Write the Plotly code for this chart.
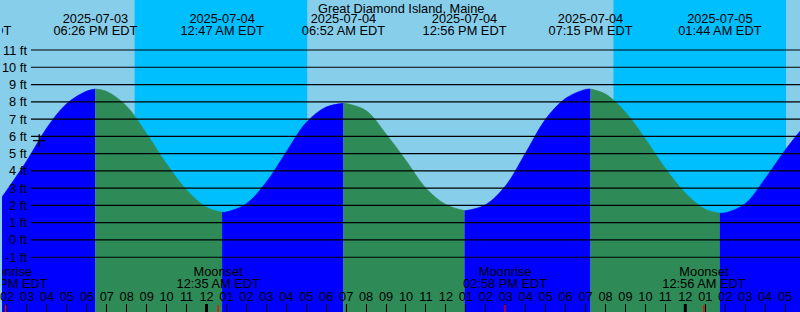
import plotly.graph_objects as go
from datetime import datetime

# ---------------- data ----------------
station = "Great Diamond Island, Maine"

tide_times = [
    "2025-07-03 13:45", "2025-07-03 14:00", "2025-07-03 15:00", "2025-07-03 16:00",
    "2025-07-03 17:00", "2025-07-03 18:00", "2025-07-03 18:26",
    "2025-07-03 19:00", "2025-07-03 20:00", "2025-07-03 21:00", "2025-07-03 22:00",
    "2025-07-03 23:00", "2025-07-04 00:00", "2025-07-04 00:47",
    "2025-07-04 01:00", "2025-07-04 02:00", "2025-07-04 03:00", "2025-07-04 04:00",
    "2025-07-04 05:00", "2025-07-04 06:00", "2025-07-04 06:52",
    "2025-07-04 07:00", "2025-07-04 08:00", "2025-07-04 09:00", "2025-07-04 10:00",
    "2025-07-04 11:00", "2025-07-04 12:00", "2025-07-04 12:56",
    "2025-07-04 13:00", "2025-07-04 14:00", "2025-07-04 15:00", "2025-07-04 16:00",
    "2025-07-04 17:00", "2025-07-04 18:00", "2025-07-04 19:00", "2025-07-04 19:15",
    "2025-07-04 20:00", "2025-07-04 21:00", "2025-07-04 22:00", "2025-07-04 23:00",
    "2025-07-05 00:00", "2025-07-05 01:00", "2025-07-05 01:44",
    "2025-07-05 02:00", "2025-07-05 03:00", "2025-07-05 04:00", "2025-07-05 05:00",
    "2025-07-05 05:45",
]
tide_heights = [
    2.49, 2.90, 4.60, 6.50,
    7.90, 8.62, 8.74,
    8.60, 7.75, 6.15, 4.40,
    2.90, 1.90, 1.60,
    1.62, 2.10, 3.35, 5.10,
    6.80, 7.70, 7.91,
    7.90, 7.49, 6.14, 4.60,
    3.00, 2.05, 1.70,
    1.70, 2.05, 3.15, 5.05,
    7.00, 8.20, 8.72, 8.74,
    8.45, 7.40, 5.85, 4.15,
    2.72, 1.78, 1.55,
    1.57, 2.10, 3.55, 5.20,
    6.30,
]

event_times = ["2025-07-03 12:07", "2025-07-03 18:26", "2025-07-04 00:47", "2025-07-04 06:52",
               "2025-07-04 12:56", "2025-07-04 19:15", "2025-07-05 01:44"]
event_dates = ["2025-07-03", "2025-07-03", "2025-07-04", "2025-07-04",
               "2025-07-04", "2025-07-04", "2025-07-05"]
event_clock = ["12:07 PM EDT", "06:26 PM EDT", "12:47 AM EDT", "06:52 AM EDT",
               "12:56 PM EDT", "07:15 PM EDT", "01:44 AM EDT"]

moon_times = ["2025-07-03 13:56", "2025-07-04 00:35", "2025-07-04 14:58", "2025-07-05 00:56"]
moon_names = ["Moonrise", "Moonset", "Moonrise", "Moonset"]
moon_clock = ["01:56 PM EDT", "12:35 AM EDT", "02:58 PM EDT", "12:56 AM EDT"]

night_starts = ["2025-07-03 20:24", "2025-07-04 20:24"]
night_ends = ["2025-07-04 05:03", "2025-07-05 05:03"]

midnights = ["2025-07-04 00:00", "2025-07-05 00:00"]

now_time = ["2025-07-03 15:37"]
now_height = [5.75]

ft_levels = list(range(11, -2, -1))
ft_labels = [f"{v} ft" for v in ft_levels]

x_range = ["2025-07-03 13:45", "2025-07-05 05:45"]

# ---------------- styling ----------------
W, H = 800, 312
DAY = "#87CEEB"
NIGHT = "#00BFFF"
FLOOD = "#0000FF"
EBB = "#2E8B57"
FONT = "Liberation Sans"
FS = 12.8

# vertical scale: 11 ft at y=50px, 17.27 px per foot
PX_PER_FT = 17.27
Y_TOP = 11 + 50 / PX_PER_FT
Y_BOT = 11 - (H - 50) / PX_PER_FT


def px_to_ft(ypx):
    return 11 - (ypx - 50) / PX_PER_FT


def parse(s):
    return datetime.strptime(s, "%Y-%m-%d %H:%M")


fig = go.Figure()

# tide fill, split at each high/low
T = [parse(t) for t in tide_times]
bounds = [T[0]] + [parse(e) for e in event_times if T[0] < parse(e) < T[-1]] + [T[-1]]
for a, b in zip(bounds[:-1], bounds[1:]):
    idx = [i for i, t in enumerate(T) if a <= t <= b]
    xs = [tide_times[i] for i in idx]
    ys = [tide_heights[i] for i in idx]
    color = FLOOD if ys[-1] > ys[0] else EBB
    fig.add_trace(go.Scatter(x=[xs[0], xs[-1]], y=[Y_BOT - 1, Y_BOT - 1], mode="lines",
                             line=dict(width=0), hoverinfo="skip", showlegend=False))
    fig.add_trace(go.Scatter(x=xs, y=ys, mode="lines",
                             line=dict(width=0.6, color=color, shape="spline", smoothing=1),
                             fill="tonexty", fillcolor=color, hoverinfo="skip", showlegend=False))

# "now" marker
fig.add_trace(go.Scatter(x=now_time, y=now_height, mode="markers",
                         marker=dict(symbol="cross-thin", size=9, line=dict(color="black", width=1.3)),
                         hoverinfo="skip", showlegend=False))

# top labels (high / low)
fig.add_trace(go.Scatter(x=event_times, y=[px_to_ft(19.5)] * len(event_times), mode="text",
                         text=event_dates, textfont=dict(family=FONT, size=FS, color="black"),
                         textposition="middle center", cliponaxis=True, hoverinfo="skip", showlegend=False))
fig.add_trace(go.Scatter(x=event_times, y=[px_to_ft(31.5)] * len(event_times), mode="text",
                         text=event_clock, textfont=dict(family=FONT, size=FS, color="black"),
                         textposition="middle center", cliponaxis=True, hoverinfo="skip", showlegend=False))

# moon labels
fig.add_trace(go.Scatter(x=moon_times, y=[px_to_ft(273)] * len(moon_times), mode="text",
                         text=moon_names, textfont=dict(family=FONT, size=FS, color="black"),
                         textposition="middle center", cliponaxis=True, hoverinfo="skip", showlegend=False))
fig.add_trace(go.Scatter(x=moon_times, y=[px_to_ft(285)] * len(moon_times), mode="text",
                         text=moon_clock, textfont=dict(family=FONT, size=FS, color="black"),
                         textposition="middle center", cliponaxis=True, hoverinfo="skip", showlegend=False))

shapes = []
# night backgrounds
for s, e in zip(night_starts, night_ends):
    shapes.append(dict(type="rect", xref="x", yref="paper", x0=s, x1=e, y0=0, y1=1,
                       fillcolor=NIGHT, line=dict(width=0), layer="below"))
# horizontal foot lines
for v in ft_levels:
    shapes.append(dict(type="line", xref="paper", yref="y", x0=29 / W, x1=1, y0=v, y1=v,
                       line=dict(color="black", width=1.2), layer="above"))
# midnight ticks
for m in midnights:
    shapes.append(dict(type="line", xref="x", yref="paper", x0=m, x1=m, y0=0, y1=8 / H,
                       line=dict(color="black", width=3), layer="above"))
# moon event ticks
for m in moon_times:
    shapes.append(dict(type="line", xref="x", yref="paper", x0=m, x1=m, y0=0, y1=7 / H,
                       line=dict(color="red", width=1.3), layer="above"))

annotations = [dict(text=station, xref="paper", yref="paper", x=0.5, y=1 - 8 / H,
                    xanchor="center", yanchor="middle", showarrow=False,
                    font=dict(family=FONT, size=FS, color="black"))]
for v, lab in zip(ft_levels, ft_labels):
    annotations.append(dict(text=lab, xref="paper", yref="y", x=27 / W, y=v,
                            xanchor="right", yanchor="middle", showarrow=False,
                            font=dict(family=FONT, size=FS, color="black")))

fig.update_layout(
    width=W, height=H,
    margin=dict(l=0, r=0, t=0, b=0),
    paper_bgcolor=DAY, plot_bgcolor=DAY,
    showlegend=False,
    shapes=shapes, annotations=annotations,
    xaxis=dict(type="date", range=x_range, showgrid=False, zeroline=False, showline=False,
               dtick=3600000, tick0="2025-07-03 00:00", tickformat="%I",
               ticks="inside", ticklen=8, tickcolor="black", tickwidth=1,
               ticklabelposition="inside", ticklabeloverflow="allow",
               tickfont=dict(family=FONT, size=FS, color="black"), fixedrange=True),
    yaxis=dict(range=[Y_BOT, Y_TOP], visible=False, fixedrange=True),
)

fig.write_html("out.html")
